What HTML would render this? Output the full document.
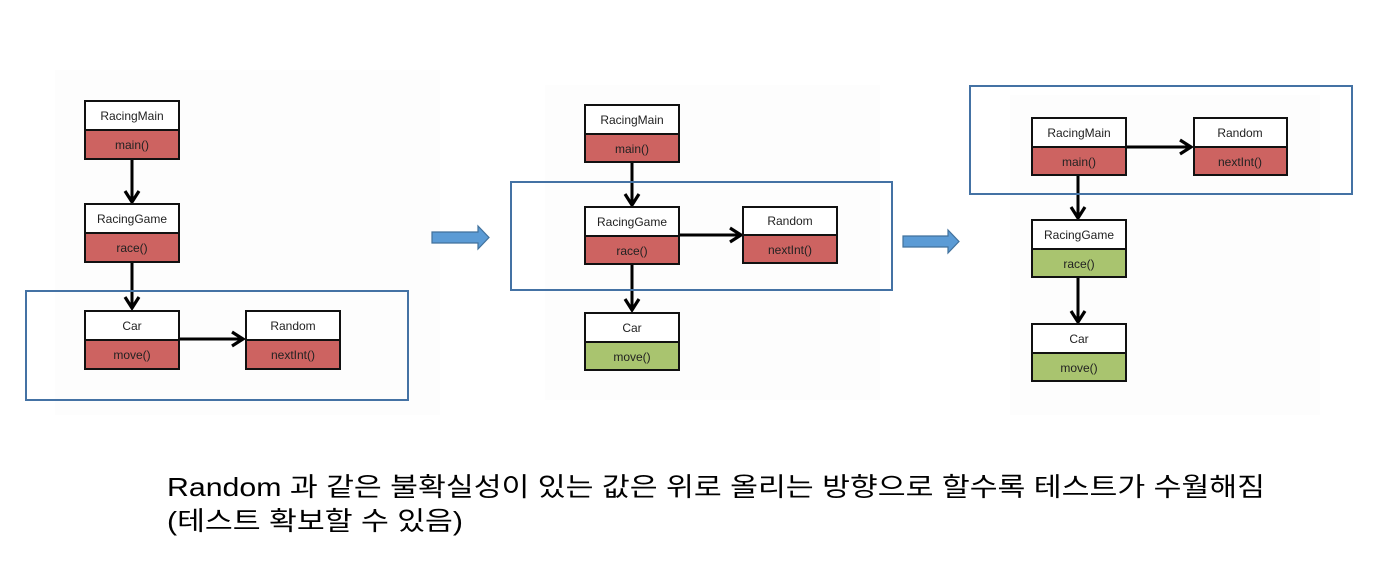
<!DOCTYPE html>
<html><head><meta charset="utf-8"><style>
html,body{margin:0;padding:0;background:#fff;}
svg{display:block;}
.t{font-family:"Liberation Sans",sans-serif;font-size:12px;fill:#222;text-anchor:middle;}
.k{font-family:"Liberation Sans","Noto Sans CJK KR","NanumGothic",sans-serif;font-size:26px;fill:#000;}
</style></head><body>
<svg width="1387" height="564" viewBox="0 0 1387 564" xmlns="http://www.w3.org/2000/svg">
<defs>
<marker id="ah" markerWidth="18" markerHeight="18" refX="14" refY="9" orient="auto" markerUnits="userSpaceOnUse">
<path d="M3,2 L14,9 L3,16" fill="none" stroke="#000" stroke-width="3.2"/>
</marker>
</defs>
<!-- panels -->
<rect x="55" y="70" width="385" height="345" fill="#fdfdfd"/>
<rect x="545" y="85" width="335" height="315" fill="#fdfdfd"/>
<rect x="1010" y="95" width="310" height="320" fill="#fdfdfd"/>

<!-- Diagram 1 -->
<g stroke="#000" stroke-width="3">
<line x1="132" y1="159" x2="132" y2="202" marker-end="url(#ah)"/>
<line x1="132" y1="263" x2="132" y2="308" marker-end="url(#ah)"/>
<line x1="179" y1="339" x2="243" y2="339" marker-end="url(#ah)"/>
</g>
<g stroke="#111" stroke-width="2">
<rect x="85" y="101" width="94" height="29" fill="#fff"/><rect x="85" y="130" width="94" height="29" fill="#cd6361"/>
<rect x="85" y="204" width="94" height="29" fill="#fff"/><rect x="85" y="233" width="94" height="29" fill="#cd6361"/>
<rect x="85" y="311" width="94" height="29" fill="#fff"/><rect x="85" y="340" width="94" height="29" fill="#cd6361"/>
<rect x="246" y="311" width="94" height="29" fill="#fff"/><rect x="246" y="340" width="94" height="29" fill="#cd6361"/>
</g>
<text class="t" x="132" y="120">RacingMain</text><text class="t" x="132" y="149">main()</text>
<text class="t" x="132" y="223">RacingGame</text><text class="t" x="132" y="252">race()</text>
<text class="t" x="132" y="330">Car</text><text class="t" x="132" y="359">move()</text>
<text class="t" x="293" y="330">Random</text><text class="t" x="293" y="359">nextInt()</text>
<rect x="26" y="291" width="382" height="109" fill="none" stroke="#4472a4" stroke-width="2"/>

<!-- arrow 1 -->
<path d="M432,232 L478,232 L478,226 L489,237.5 L478,249 L478,243 L432,243 Z" fill="#5b9bd5" stroke="#41719c" stroke-width="1.2"/>

<!-- Diagram 2 -->
<g stroke="#000" stroke-width="3">
<line x1="632" y1="162" x2="632" y2="205" marker-end="url(#ah)"/>
<line x1="632" y1="264" x2="632" y2="310" marker-end="url(#ah)"/>
<line x1="679" y1="235" x2="741" y2="235" marker-end="url(#ah)"/>
</g>
<g stroke="#111" stroke-width="2">
<rect x="585" y="105" width="94" height="29" fill="#fff"/><rect x="585" y="134" width="94" height="28" fill="#cd6361"/>
<rect x="585" y="207" width="94" height="29" fill="#fff"/><rect x="585" y="236" width="94" height="28" fill="#cd6361"/>
<rect x="743" y="207" width="94" height="28" fill="#fff"/><rect x="743" y="235" width="94" height="28" fill="#cd6361"/>
<rect x="585" y="313" width="94" height="29" fill="#fff"/><rect x="585" y="342" width="94" height="28" fill="#a9c46f"/>
</g>
<text class="t" x="632" y="124">RacingMain</text><text class="t" x="632" y="153">main()</text>
<text class="t" x="632" y="226">RacingGame</text><text class="t" x="632" y="255">race()</text>
<text class="t" x="790" y="225">Random</text><text class="t" x="790" y="254">nextInt()</text>
<text class="t" x="632" y="332">Car</text><text class="t" x="632" y="361">move()</text>
<rect x="511" y="182" width="381" height="108" fill="none" stroke="#4472a4" stroke-width="2"/>

<!-- arrow 2 -->
<path d="M903,236 L948,236 L948,230 L959,241.5 L948,253 L948,247 L903,247 Z" fill="#5b9bd5" stroke="#41719c" stroke-width="1.2"/>

<!-- Diagram 3 -->
<g stroke="#000" stroke-width="3">
<line x1="1078" y1="175" x2="1078" y2="218" marker-end="url(#ah)"/>
<line x1="1078" y1="277" x2="1078" y2="322" marker-end="url(#ah)"/>
<line x1="1127" y1="147" x2="1191" y2="147" marker-end="url(#ah)"/>
</g>
<g stroke="#111" stroke-width="2">
<rect x="1032" y="118" width="94" height="29" fill="#fff"/><rect x="1032" y="147" width="94" height="28" fill="#cd6361"/>
<rect x="1194" y="118" width="93" height="29" fill="#fff"/><rect x="1194" y="147" width="93" height="28" fill="#cd6361"/>
<rect x="1032" y="220" width="94" height="29" fill="#fff"/><rect x="1032" y="249" width="94" height="28" fill="#a9c46f"/>
<rect x="1032" y="324" width="94" height="29" fill="#fff"/><rect x="1032" y="353" width="94" height="28" fill="#a9c46f"/>
</g>
<text class="t" x="1079" y="137">RacingMain</text><text class="t" x="1079" y="166">main()</text>
<text class="t" x="1240" y="137">Random</text><text class="t" x="1240" y="166">nextInt()</text>
<text class="t" x="1079" y="239">RacingGame</text><text class="t" x="1079" y="268">race()</text>
<text class="t" x="1079" y="343">Car</text><text class="t" x="1079" y="372">move()</text>
<rect x="970" y="86" width="382" height="108" fill="none" stroke="#4472a4" stroke-width="2"/>

<!-- caption -->
<text class="k" x="167" y="496" textLength="1098" lengthAdjust="spacingAndGlyphs">Random 과 같은 불확실성이 있는 값은 위로 올리는 방향으로 할수록 테스트가 수월해짐</text>
<text class="k" x="167" y="530" textLength="296" lengthAdjust="spacingAndGlyphs">(테스트 확보할 수 있음)</text>
</svg>
</body></html>
